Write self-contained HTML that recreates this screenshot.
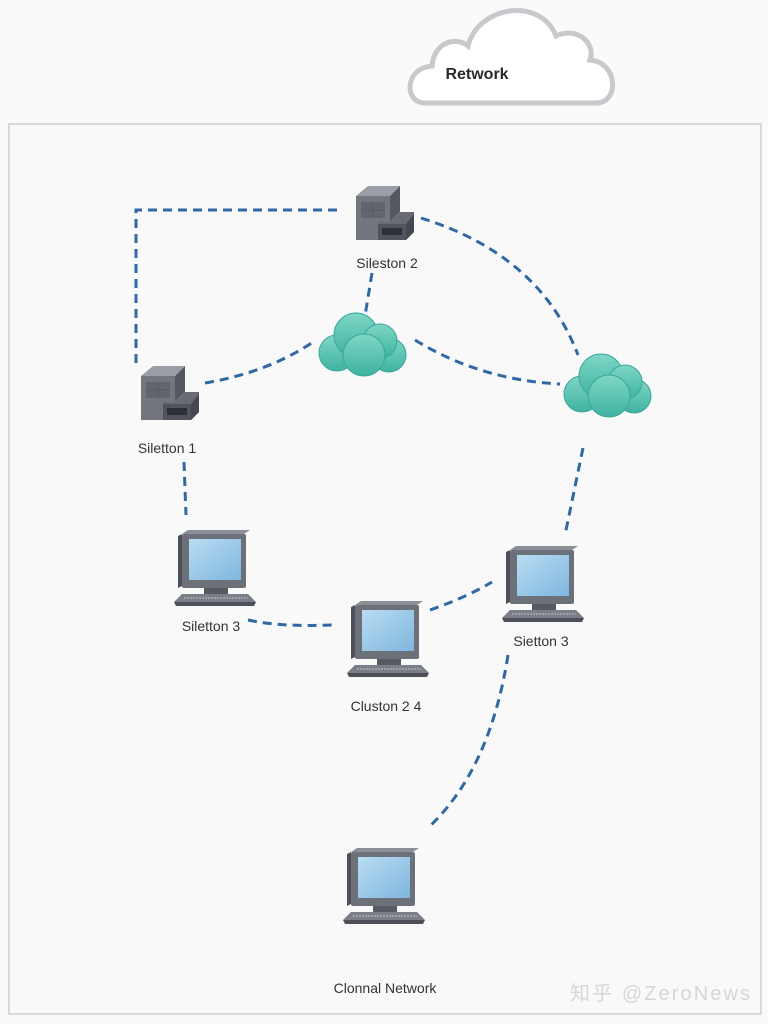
<!DOCTYPE html>
<html><head><meta charset="utf-8">
<style>
html,body{margin:0;padding:0;background:#fafafa;}
svg{display:block;}
text{font-family:"Liberation Sans","Noto Sans CJK SC",sans-serif;}
</style></head>
<body>
<svg width="768" height="1024" viewBox="0 0 768 1024" xmlns="http://www.w3.org/2000/svg">
<defs>
  <linearGradient id="scr" x1="0" y1="0" x2="1" y2="1">
    <stop offset="0" stop-color="#b9dcf2"/><stop offset="1" stop-color="#7fb6de"/>
  </linearGradient>
  <linearGradient id="cl" x1="0" y1="0" x2="0" y2="1">
    <stop offset="0" stop-color="#7fd6c6"/><stop offset="1" stop-color="#3fb3a0"/>
  </linearGradient>
  <g id="pc">
    <polygon points="4,4 10,0 72,0 66,4" fill="#8a8e96"/>
    <polygon points="0,6 4,4 4,56 0,58" fill="#4d5058"/>
    <rect x="4" y="4" width="64" height="54" rx="2" fill="#6c7078"/>
    <rect x="11" y="9" width="52" height="41" fill="url(#scr)"/>
    <rect x="26" y="58" width="24" height="6" fill="#565a62"/>
    <polygon points="4,64 70,64 78,72 -4,72" fill="#7a7e86"/>
    <polygon points="-4,72 78,72 76,76 -2,76" fill="#4d5058"/>
    <line x1="6" y1="68" x2="70" y2="68" stroke="#9da1a8" stroke-width="2" stroke-dasharray="2 1"/>
  </g>
  <g id="srv">
    <polygon points="0,10 12,0 44,0 34,10" fill="#9a9ea6"/>
    <polygon points="34,10 44,0 44,26 34,36" fill="#55585f"/>
    <rect x="0" y="10" width="34" height="44" fill="#73767e"/>
    <rect x="5" y="16" width="24" height="16" fill="#62656d"/>
    <line x1="17" y1="16" x2="17" y2="32" stroke="#575a61"/>
    <line x1="5" y1="24" x2="29" y2="24" stroke="#575a61"/>
    <polygon points="22,36 34,36 44,26 58,26 58,46 50,54 22,54" fill="#686b73"/>
    <rect x="22" y="38" width="28" height="16" fill="#51545b"/>
    <rect x="26" y="42" width="20" height="7" fill="#2c2f35"/>
    <polygon points="50,38 58,28 58,46 50,54" fill="#45484f"/>
  </g>
  <g id="cloud" fill="url(#cl)" stroke="#3aa897" stroke-width="1">
    <circle cx="-25" cy="6" r="18"/>
    <circle cx="27" cy="8" r="17"/>
    <circle cx="-6" cy="-12" r="22"/>
    <circle cx="18" cy="-6" r="17"/>
    <circle cx="2" cy="8" r="21"/>
  </g>
</defs>
<rect width="768" height="1024" fill="#fafafa"/>
<!-- top cloud -->
<path d="M425,103 C404,103 404,68 432,66 C434,42 456,36 468,46 C478,6 540,-4 556,36 C578,26 596,44 590,60 C618,62 620,103 596,103 Z" fill="#ffffff" stroke="#c8c9cc" stroke-width="5"/>
<text x="477" y="79" text-anchor="middle" font-size="16" font-weight="bold" fill="#2a2a2a">Retwork</text>
<!-- panel -->
<rect x="9" y="124" width="752" height="890" fill="#f9f9f9" stroke="#d9d9d9" stroke-width="2"/>
<!-- connectors -->
<g fill="none" stroke="#2f68a3" stroke-width="3" stroke-dasharray="9 6">
  <path d="M337,210 L136,210 L136,368"/>
  <path d="M205,383 Q270,372 316,340"/>
  <path d="M372,273 L365,316"/>
  <path d="M421,218 Q540,255 578,355"/>
  <path d="M415,340 Q480,380 560,384"/>
  <path d="M583,448 L565,535"/>
  <path d="M184,462 L186,515"/>
  <path d="M248,620 Q280,627 333,625"/>
  <path d="M430,610 Q465,598 492,582"/>
  <path d="M508,655 Q490,770 428,828"/>
</g>
<!-- nodes -->
<use href="#srv" x="356" y="186"/>
<use href="#srv" x="141" y="366"/>
<use href="#cloud" x="362" y="347"/>
<use href="#cloud" x="607" y="388"/>
<use href="#pc" x="178" y="530"/>
<use href="#pc" x="351" y="601"/>
<use href="#pc" x="506" y="546"/>
<use href="#pc" x="347" y="848"/>
<!-- labels -->
<g font-size="14" fill="#333" text-anchor="middle">
  <text x="387" y="268">Sileston 2</text>
  <text x="167" y="453">Siletton 1</text>
  <text x="211" y="631">Siletton 3</text>
  <text x="541" y="646">Sietton 3</text>
  <text x="386" y="711">Cluston 2 4</text>
  <text x="385" y="993">Clonnal Network</text>
</g>
<text x="660" y="1000" text-anchor="middle" font-size="20" fill="#d6d6d6" textLength="180">知乎 @ZeroNews</text>
</svg>
</body></html>
